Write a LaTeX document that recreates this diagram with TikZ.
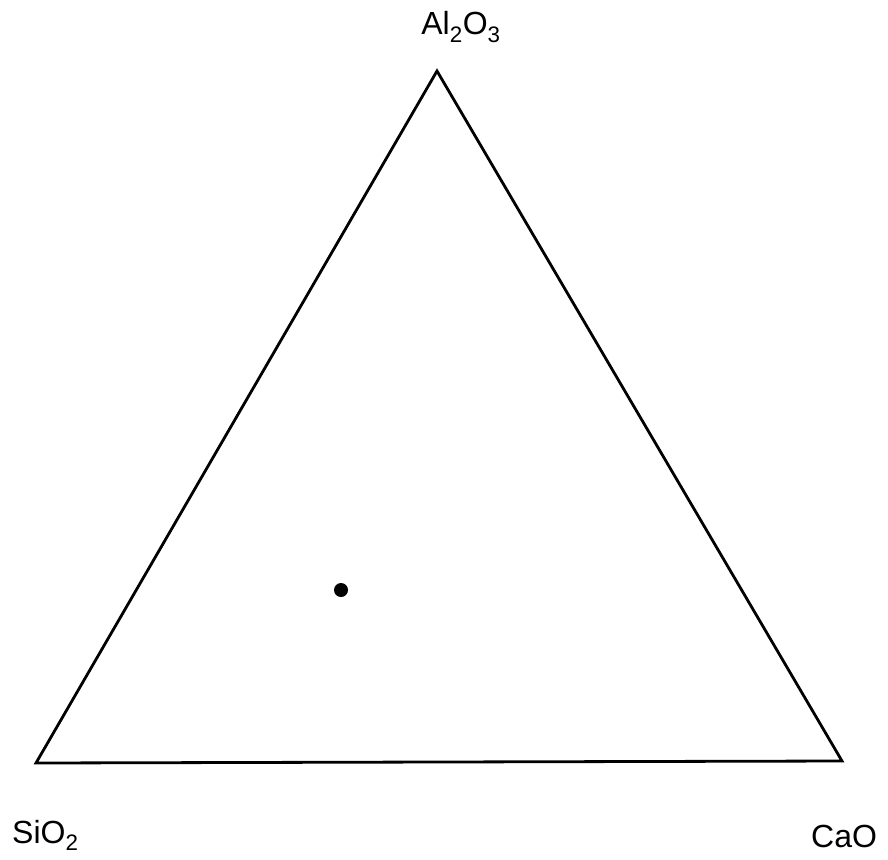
\documentclass[tikz,border=0pt]{standalone}
\usepackage{fontspec}
\setmainfont{Liberation Sans}
\usepackage{tikz}

\begin{document}
\begin{tikzpicture}[
  x=1pt, y=-1pt,
  edge/.style={draw, line width=2.8pt, line join=miter},
  oxide/.style={font=\fontsize{32}{36}\selectfont, inner sep=0pt, anchor=base},
  sample/.style={circle, fill=black, inner sep=0pt, minimum size=14pt}
]
\useasboundingbox (0,0) rectangle (888,859);
\coordinate (top) at (437,71);
\coordinate (left) at (36,763);
\coordinate (right) at (842,761);
\draw[edge] (top) -- (left) -- (right) -- cycle;
\node[sample] (pt) at (341,590) {};
\node[oxide] (al) at (461,35) {Al\textsubscript{2}O\textsubscript{3}};
\node[oxide, anchor=base west] (si) at (12,843) {SiO\textsubscript{2}};
\node[oxide, anchor=base west] (ca) at (811,847) {CaO};
\end{tikzpicture}
\end{document}
